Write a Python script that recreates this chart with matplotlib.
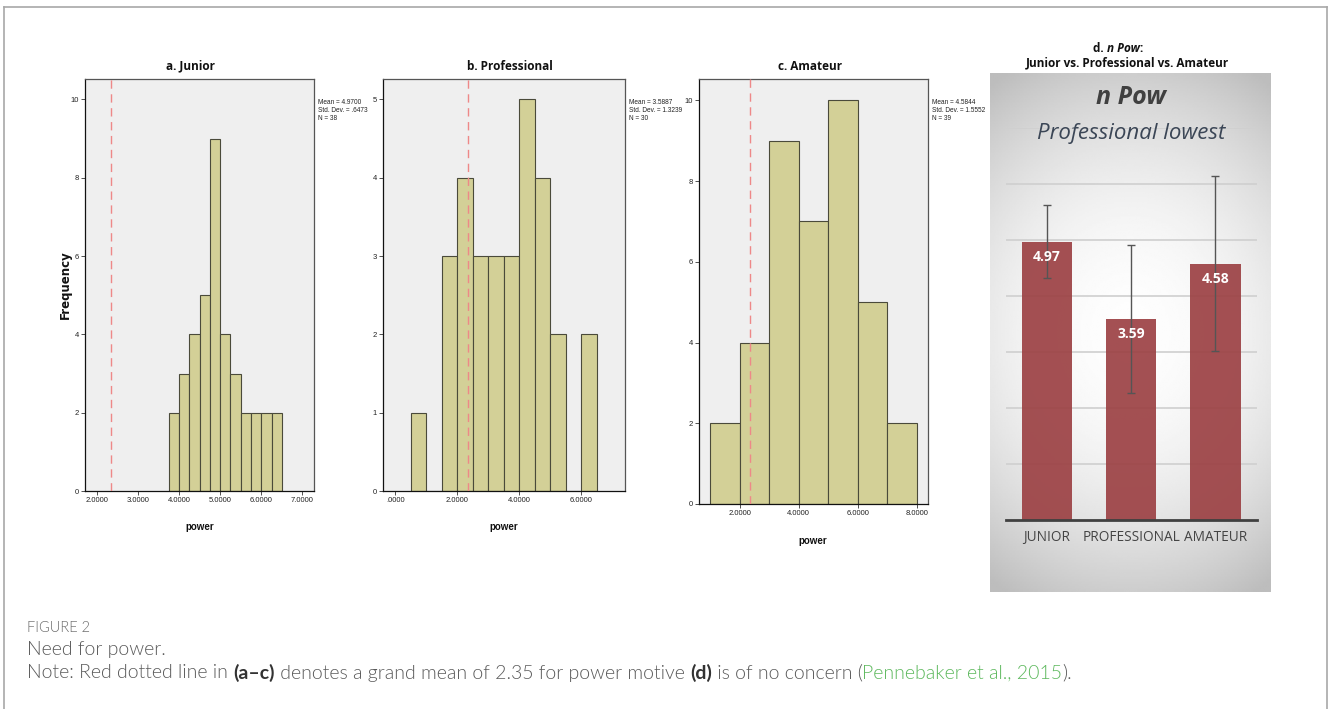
import numpy as np
import matplotlib
matplotlib.use("Agg")
import matplotlib.pyplot as plt
from matplotlib import font_manager as fm
from matplotlib.lines import Line2D

# ---------------- data ----------------
junior_edges = [3.75, 4.0, 4.25, 4.5, 4.75, 5.0, 5.25, 5.5, 5.75, 6.0, 6.25, 6.5]
junior_counts = [2, 3, 4, 5, 9, 4, 3, 2, 2, 2, 2]
junior_xticks = [2, 3, 4, 5, 6, 7]
junior_xticklabels = ["2.0000", "3.0000", "4.0000", "5.0000", "6.0000", "7.0000"]
junior_yticks = [0, 2, 4, 6, 8, 10]
junior_stats = "Mean = 4.9700\nStd. Dev. = .6473\nN = 38"

pro_edges = [0.5, 1.0, 1.5, 2.0, 2.5, 3.0, 3.5, 4.0, 4.5, 5.0, 5.5, 6.0, 6.5]
pro_counts = [1, 0, 3, 4, 3, 3, 3, 5, 4, 2, 0, 2]
pro_xticks = [0, 2, 4, 6]
pro_xticklabels = [".0000", "2.0000", "4.0000", "6.0000"]
pro_yticks = [0, 1, 2, 3, 4, 5]
pro_stats = "Mean = 3.5887\nStd. Dev. = 1.3239\nN = 30"

ama_edges = [1, 2, 3, 4, 5, 6, 7, 8]
ama_counts = [2, 4, 9, 7, 10, 5, 2]
ama_xticks = [2, 4, 6, 8]
ama_xticklabels = ["2.0000", "4.0000", "6.0000", "8.0000"]
ama_yticks = [0, 2, 4, 6, 8, 10]
ama_stats = "Mean = 4.5844\nStd. Dev. = 1.5552\nN = 39"

grand_mean = 2.35

groups = ["JUNIOR", "PROFESSIONAL", "AMATEUR"]
group_means = [4.97, 3.59, 4.58]
group_sds = [0.6473, 1.3239, 1.5552]
d_gridlines = [1, 2, 3, 4, 5, 6, 7]

# ---------------- fonts ----------------
avail = {f.name for f in fm.fontManager.ttflist}
def pick(*names):
    for n in names:
        if n in avail:
            return n
    return "DejaVu Sans"
NARROW = pick("Liberation Sans Narrow", "Liberation Sans", "DejaVu Sans")
SANS = pick("Open Sans", "Lato", "DejaVu Sans")
CAP = pick("Lato", "Open Sans", "DejaVu Sans")

W, H = 1328, 709
fig = plt.figure(figsize=(W / 100, H / 100), dpi=100)
fig.patch.set_facecolor("white")

def ax_px(x0, y0, x1, y1, **kw):
    return fig.add_axes([x0 / W, 1 - y1 / H, (x1 - x0) / W, (y1 - y0) / H], **kw)

def ftext(x, y, s, **kw):
    return fig.text(x / W, 1 - y / H, s, **kw)

# outer frame
fc = "#a8a8a8"
fig.add_artist(Line2D([4 / W, 4 / W], [0, 1 - 7 / H], transform=fig.transFigure, color=fc, lw=1.2))
fig.add_artist(Line2D([4 / W, 1327 / W], [1 - 7 / H, 1 - 7 / H], transform=fig.transFigure, color=fc, lw=1.2))
fig.add_artist(Line2D([1327 / W, 1327 / W], [0, 1 - 7 / H], transform=fig.transFigure, color=fc, lw=1.2))

BAR = "#d3d097"
EDGE = "#4a4a3a"

def hist_panel(box, edges, counts, xlim, ylim, xticks, xtl, yticks):
    ax = ax_px(*box)
    ax.set_facecolor("#efefef")
    widths = np.diff(edges)
    ax.bar(edges[:-1], counts, width=widths, align="edge", color=BAR,
           edgecolor=EDGE, linewidth=0.8, zorder=2)
    ax.axvline(grand_mean, color="#ee8888", lw=1.0, ls=(0, (6, 4)), zorder=3)
    ax.set_xlim(*xlim)
    ax.set_ylim(*ylim)
    ax.set_xticks(xticks)
    ax.set_xticklabels(xtl, fontsize=5.5, family=NARROW, color="#222")
    ax.set_yticks(yticks)
    ax.set_yticklabels([str(t) for t in yticks], fontsize=5.5, family=NARROW, color="#222")
    ax.tick_params(length=3, width=0.6, pad=1.5, color="#333")
    for sp in ax.spines.values():
        sp.set_color("#555555")
        sp.set_linewidth(0.9)
    ax.spines["bottom"].set_color("#111")
    ax.spines["left"].set_color("#111")
    return ax

hist_panel((85, 79, 314, 491), junior_edges, junior_counts, (1.715, 7.28), (0, 10.52),
           junior_xticks, junior_xticklabels, junior_yticks)
hist_panel((383, 79, 625, 491), pro_edges, pro_counts, (-0.40, 7.42), (0, 5.26),
           pro_xticks, pro_xticklabels, pro_yticks)
hist_panel((699, 79, 928, 504), ama_edges, ama_counts, (0.62, 8.38), (0, 10.53),
           ama_xticks, ama_xticklabels, ama_yticks)

title_kw = dict(fontsize=8.5, fontweight="bold", family=SANS, ha="center", va="center", color="#111")
ftext(190, 66, "a. Junior", **title_kw)
ftext(510, 66, "b. Professional", **title_kw)
ftext(810, 66, "c. Amateur", **title_kw)

lab_kw = dict(fontsize=7, fontweight="bold", family=NARROW, ha="center", va="center", color="#111")
ftext(200, 527, "power", **lab_kw)
ftext(504, 527, "power", **lab_kw)
ftext(813, 541, "power", **lab_kw)
ftext(65, 285, "Frequency", rotation=90, fontsize=8.5, fontweight="bold", family="DejaVu Sans",
      ha="center", va="center", color="#111")

st_kw = dict(fontsize=4.7, family=NARROW, ha="left", va="top", color="#222", linespacing=1.2)
ftext(318, 99, junior_stats, **st_kw)
ftext(629, 99, pro_stats, **st_kw)
ftext(932, 99, ama_stats, **st_kw)

# ---------------- panel d ----------------
bg = ax_px(990, 73, 1270, 592)
ny, nx = 300, 200
v, u = np.mgrid[0:1:ny * 1j, 0:1:nx * 1j]
r2 = ((u - 0.5) / 0.85) ** 2 + ((v - 0.5) / 0.55) ** 2
val = np.clip(0.995 - 0.23 * r2, 0.74, 1.0)
bg.imshow(val, cmap="gray", vmin=0, vmax=1, aspect="auto", extent=(0, 1, 0, 1), interpolation="bilinear")
bg.set_axis_off()

axd = ax_px(1005.7, 128, 1256.7, 520)
axd.patch.set_alpha(0)
xs = np.arange(len(groups))
for g in d_gridlines:
    axd.axhline(g, color="#cfcfcf", lw=1.2, zorder=0)
axd.bar(xs, group_means, width=0.6, color="#9c4144", alpha=0.92, zorder=2)
axd.errorbar(xs, group_means, yerr=group_sds, fmt="none", ecolor="#555555",
             elinewidth=1.0, capsize=3, capthick=1.0, zorder=3)
for x, m in zip(xs, group_means):
    axd.annotate(f"{m:.2f}", (x, m), xytext=(0, -15), textcoords="offset pixels",
                 ha="center", va="center", color="white", fontsize=10,
                 fontweight="bold", family=SANS, zorder=4)
axd.set_xlim(-0.49, 2.49)
axd.set_ylim(0, 7)
axd.set_yticks([])
axd.set_xticks(xs)
axd.set_xticklabels(groups, fontsize=9.8, family=SANS, color="#444444")
axd.tick_params(axis="x", length=0, pad=7)
for s in ["top", "right", "left"]:
    axd.spines[s].set_visible(False)
axd.spines["bottom"].set_color("#404040")
axd.spines["bottom"].set_linewidth(2)

ftext(1131, 98, "n Pow", fontsize=18, fontweight="bold", style="italic", family=SANS,
      ha="center", va="center", color="#404040")
ftext(1131, 133, "Professional lowest", fontsize=16, style="italic", family=SANS,
      ha="center", va="center", color="#3b4656")

renderer = fig.canvas.get_renderer()

def segments(x, y, segs):
    arts = []
    for s, kw in segs:
        t = ftext(x, y, s, ha="left", va="center", **kw)
        arts.append(t)
        bb = t.get_window_extent(renderer=renderer)
        x += bb.width
    return arts, x

def centered_segments(xc, y, segs):
    arts, end = segments(0, y, segs)
    for t in arts:
        t.remove()
    segments(xc - end / 2, y, segs)

dkw = dict(fontsize=8.5, fontweight="bold", family=SANS, color="#111")
centered_segments(1118, 48, [("d. ", dkw), ("n Pow", dict(dkw, style="italic")), (":", dkw)])
ftext(1127, 63, "Junior vs. Professional vs. Amateur", ha="center", va="center", **dkw)

# ---------------- caption ----------------
ftext(27, 628, "FIGURE 2", fontsize=10.5, family=CAP, fontweight=300, color="#6a6a6a",
      ha="left", va="center")
ftext(27, 650, "Need for power.", fontsize=14, family=CAP, fontweight=300, color="#5a5a5a",
      ha="left", va="center")
ck = dict(fontsize=14, family=CAP, fontweight=300, color="#5a5a5a")
segments(27, 673, [
    ("Note: Red dotted line in ", ck),
    ("(a\u2013c)", dict(ck, fontweight="bold", color="#333333")),
    (" denotes a grand mean of 2.35 for power motive ", ck),
    ("(d)", dict(ck, fontweight="bold", color="#333333")),
    (" is of no concern (", ck),
    ("Pennebaker et al., 2015", dict(ck, color="#5cb85c")),
    (").", ck),
])

fig.savefig("out.png", dpi=100, facecolor="white")
